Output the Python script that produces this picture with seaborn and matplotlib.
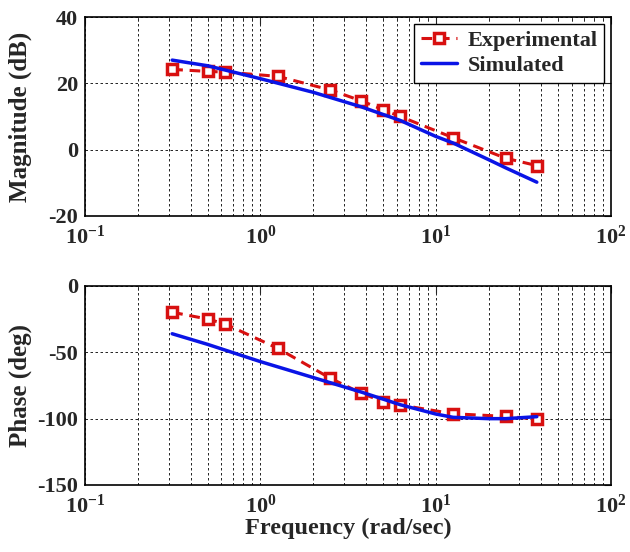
import numpy as np
import pandas as pd
import matplotlib
matplotlib.use("Agg")
import matplotlib.pyplot as plt
import matplotlib.ticker as mticker
import seaborn as sns

# Experimental points (rad/sec)
freq_exp = [0.314, 0.50, 0.628, 1.257, 2.51, 3.77, 5.03, 6.28, 12.57, 25.1, 37.7]
mag_exp = [24.2, 23.6, 23.4, 22.1, 18.0, 14.7, 12.0, 10.0, 3.6, -2.6, -4.8]
phase_exp = [-19.8, -24.9, -28.6, -47.0, -69.6, -80.9, -87.2, -89.7, -96.3, -98.3, -100.2]

# Simulated response
freq_sim = [0.314, 0.5, 1.0, 2.0, 3.77, 6.28, 10.0, 12.57, 20.0, 25.1, 37.7]
mag_sim = [27.0, 25.3, 21.4, 17.3, 12.9, 8.8, 4.0, 2.0, -3.0, -5.5, -9.8]
phase_sim = [-36.0, -44.0, -57.0, -69.0, -80.0, -89.5, -96.5, -99.0, -100.0, -100.0, -98.5]

mag_ticks = [-20, 0, 20, 40]
phase_ticks = [-150, -100, -50, 0]
dec_ticks = [0.1, 1, 10, 100]
dec_labels = [r'$\mathbf{10^{-1}}$', r'$\mathbf{10^{0}}$', r'$\mathbf{10^{1}}$', r'$\mathbf{10^{2}}$']

sns.set_style("white")
plt.rcParams['font.family'] = ['Liberation Serif', 'DejaVu Serif']
plt.rcParams['font.weight'] = 'bold'
plt.rcParams['axes.unicode_minus'] = False
plt.rcParams['mathtext.fontset'] = 'custom'
plt.rcParams['mathtext.rm'] = 'Liberation Serif:bold'
plt.rcParams['mathtext.bf'] = 'Liberation Serif:bold'
plt.rcParams['mathtext.it'] = 'Liberation Serif:bold'

red = '#d81010'
blue = '#0a14e6'

fig = plt.figure(figsize=(6.3, 5.52), dpi=100)
ax1 = fig.add_axes([0.135, 0.6087, 0.835, 0.3605])
ax2 = fig.add_axes([0.135, 0.1214, 0.835, 0.3605])

exp_df = pd.DataFrame({'f': freq_exp, 'mag': mag_exp, 'phase': phase_exp})
sim_df = pd.DataFrame({'f': freq_sim, 'mag': mag_sim, 'phase': phase_sim})

for ax, col, yt in [(ax1, 'mag', mag_ticks), (ax2, 'phase', phase_ticks)]:
    sns.lineplot(data=exp_df, x='f', y=col, ax=ax, color=red, dashes=False,
                 linewidth=2.2, marker='s', markersize=6.5, markerfacecolor='white',
                 markeredgecolor=red, markeredgewidth=2.5, label='Experimental',
                 sort=False, zorder=3)
    ax.lines[-1].set_dashes((3.5, 2.2))
    sns.lineplot(data=sim_df, x='f', y=col, ax=ax, color=blue, linewidth=2.5,
                 label='Simulated', sort=False, zorder=4)
    ax.set_xscale('log')
    ax.set_xlim(0.1, 100)
    ax.set_ylim(yt[0], yt[-1])
    ax.set_yticks(yt)
    ax.set_xticks(dec_ticks)
    ax.set_xticklabels(dec_labels)
    ax.xaxis.set_minor_locator(mticker.LogLocator(base=10, subs=np.arange(2, 10)))
    ax.xaxis.set_minor_formatter(mticker.NullFormatter())
    ax.grid(True, which='major', axis='both', color='black', linestyle=(0, (3, 3)), linewidth=0.6)
    ax.grid(True, which='minor', axis='x', color='black', linestyle=(0, (3, 3)), linewidth=0.6)
    ax.tick_params(which='both', direction='in', top=True, right=True, labelsize=16)
    ax.tick_params(which='major', length=5, width=0.8)
    ax.tick_params(which='minor', length=3, width=0.6)
    ax.tick_params(axis='x', pad=7)
    ax.tick_params(axis='y', pad=5)
    for s in ax.spines.values():
        s.set_color('black')
        s.set_linewidth(1.2)
    for lbl in ax.get_yticklabels():
        lbl.set_fontweight('bold')
    ax.set_xlabel('')

ax1.set_ylabel('Magnitude (dB)', fontsize=18, fontweight='bold')
ax2.set_ylabel('Phase (deg)', fontsize=18, fontweight='bold')
ax1.yaxis.set_label_coords(-0.100, 0.5)
ax2.yaxis.set_label_coords(-0.100, 0.5)
ax2.set_xlabel('Frequency (rad/sec)', fontsize=17.5, fontweight='bold', labelpad=0)
ax2.get_legend().remove()

leg = ax1.legend(loc='upper right', fontsize=16, frameon=True, fancybox=False,
                 framealpha=1, edgecolor='black', borderaxespad=0.3,
                 handlelength=1.6, handletextpad=0.5, borderpad=0.3, labelspacing=0.2)
leg.get_frame().set_linewidth(1.0)
for t in leg.get_texts():
    t.set_fontweight('bold')

fig.savefig('out.png', dpi=100)
